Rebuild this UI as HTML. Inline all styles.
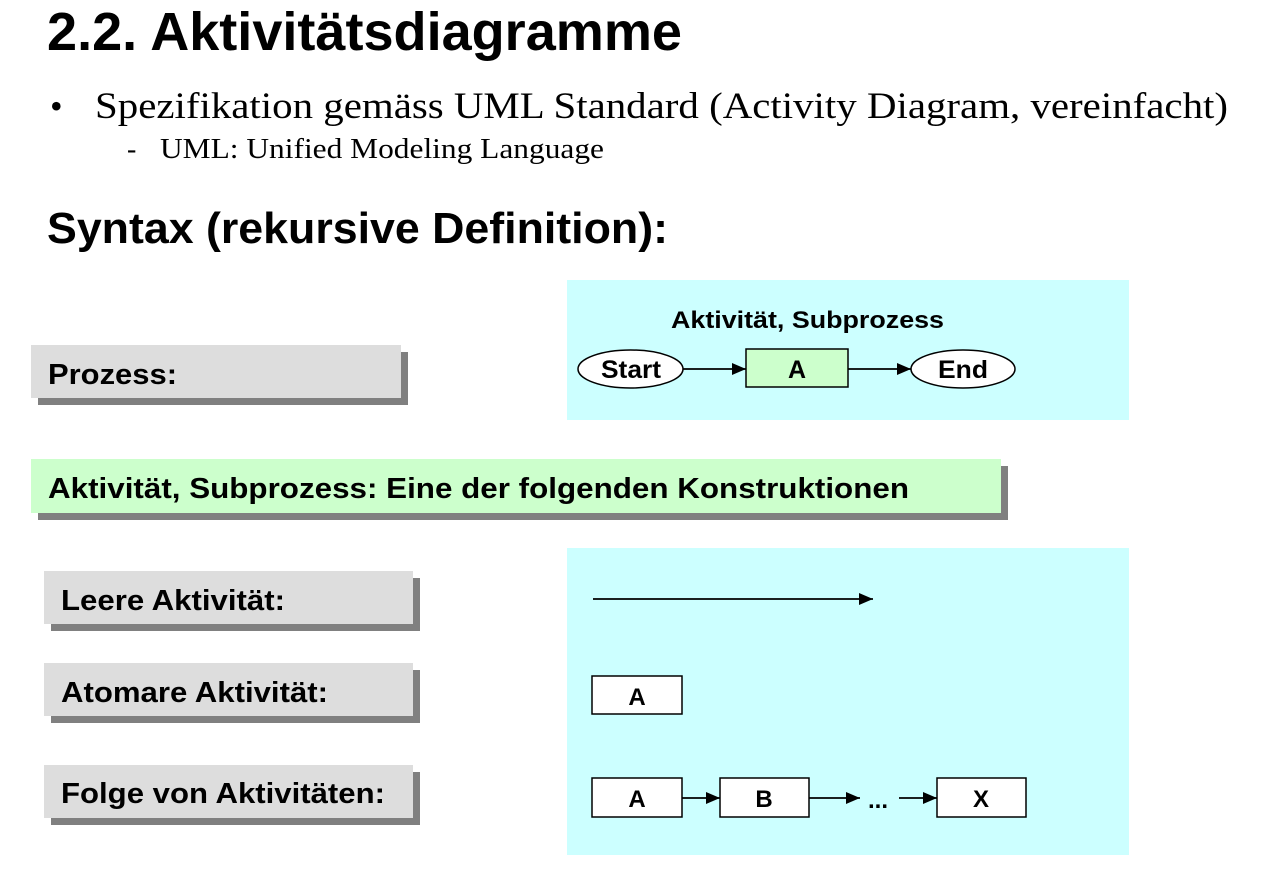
<!DOCTYPE html>
<html><head><meta charset="utf-8"><style>
html,body{margin:0;padding:0;background:#fff;}
svg{display:block;}
.h{font-family:"Liberation Sans",Arial,sans-serif;font-weight:bold;fill:#000;}
.t{font-family:"Liberation Serif","Times New Roman",serif;fill:#000;}
</style></head><body>
<svg width="1286" height="884" viewBox="0 0 1286 884" xmlns="http://www.w3.org/2000/svg">
<defs><marker id="ar" markerWidth="14" markerHeight="12" refX="14" refY="6" orient="auto" markerUnits="userSpaceOnUse"><path d="M0,0 L14,6 L0,12 z" fill="#000"/></marker></defs>
<text class="h" x="47" y="50" font-size="54" textLength="635" lengthAdjust="spacingAndGlyphs">2.2. Aktivitätsdiagramme</text>
<text class="t" x="50" y="118" font-size="36">•</text>
<text class="t" x="95" y="118" font-size="37" textLength="1133" lengthAdjust="spacingAndGlyphs">Spezifikation gemäss UML Standard  (Activity Diagram, vereinfacht)</text>
<text class="t" x="127" y="158" font-size="28">-</text>
<text class="t" x="160" y="158" font-size="28" textLength="444" lengthAdjust="spacingAndGlyphs">UML: Unified Modeling Language</text>
<text class="h" x="47" y="243" font-size="44" textLength="621" lengthAdjust="spacingAndGlyphs">Syntax (rekursive Definition):</text>

<rect x="38" y="352" width="370" height="53" fill="#808080"/>
<rect x="31" y="345" width="370" height="53" fill="#dddddd"/>
<text class="h" x="48" y="384" font-size="29" textLength="129" lengthAdjust="spacingAndGlyphs">Prozess:</text>

<rect x="38" y="466" width="970" height="54" fill="#808080"/>
<rect x="31" y="459" width="970" height="54" fill="#ccffcc"/>
<text class="h" x="48" y="498" font-size="29" textLength="861" lengthAdjust="spacingAndGlyphs">Aktivität, Subprozess: Eine der folgenden Konstruktionen</text>

<rect x="51" y="578" width="369" height="53" fill="#808080"/>
<rect x="44" y="571" width="369" height="53" fill="#dddddd"/>
<text class="h" x="61" y="610" font-size="29" textLength="224" lengthAdjust="spacingAndGlyphs">Leere Aktivität:</text>

<rect x="51" y="670" width="369" height="53" fill="#808080"/>
<rect x="44" y="663" width="369" height="53" fill="#dddddd"/>
<text class="h" x="61" y="702" font-size="29" textLength="267" lengthAdjust="spacingAndGlyphs">Atomare Aktivität:</text>

<rect x="51" y="772" width="369" height="53" fill="#808080"/>
<rect x="44" y="765" width="369" height="53" fill="#dddddd"/>
<text class="h" x="61" y="803" font-size="29" textLength="324" lengthAdjust="spacingAndGlyphs">Folge von Aktivitäten:</text>

<rect x="567" y="280" width="562" height="140" fill="#ccffff"/>
<text class="h" x="671" y="328" font-size="24" textLength="273" lengthAdjust="spacingAndGlyphs">Aktivität, Subprozess</text>
<ellipse cx="630.5" cy="369" rx="52.5" ry="19" fill="#fff" stroke="#000" stroke-width="1.5"/>
<text class="h" x="601" y="378" font-size="25" textLength="60" lengthAdjust="spacingAndGlyphs">Start</text>
<rect x="746" y="349" width="102" height="38" fill="#ccffcc" stroke="#000" stroke-width="1.5"/>
<text class="h" x="797" y="378" font-size="25" text-anchor="middle">A</text>
<ellipse cx="963" cy="369" rx="52" ry="19" fill="#fff" stroke="#000" stroke-width="1.5"/>
<text class="h" x="938" y="378" font-size="25" textLength="50" lengthAdjust="spacingAndGlyphs">End</text>
<line x1="683" y1="369" x2="746" y2="369" stroke="#000" stroke-width="1.8" marker-end="url(#ar)"/>
<line x1="848" y1="369" x2="911" y2="369" stroke="#000" stroke-width="1.8" marker-end="url(#ar)"/>

<rect x="567" y="548" width="562" height="307" fill="#ccffff"/>
<line x1="593" y1="599" x2="873" y2="599" stroke="#000" stroke-width="1.8" marker-end="url(#ar)"/>
<rect x="592" y="676" width="90" height="38" fill="#fff" stroke="#000" stroke-width="1.5"/>
<text class="h" x="637" y="705" font-size="24" text-anchor="middle">A</text>

<rect x="592" y="778" width="90" height="39" fill="#fff" stroke="#000" stroke-width="1.5"/>
<text class="h" x="637" y="807" font-size="24" text-anchor="middle">A</text>
<rect x="720" y="778" width="89" height="39" fill="#fff" stroke="#000" stroke-width="1.5"/>
<text class="h" x="764" y="807" font-size="24" text-anchor="middle">B</text>
<rect x="937" y="778" width="89" height="39" fill="#fff" stroke="#000" stroke-width="1.5"/>
<text class="h" x="981" y="807" font-size="24" text-anchor="middle">X</text>
<text class="h" x="878" y="808" font-size="24" text-anchor="middle">...</text>
<line x1="682" y1="798" x2="720" y2="798" stroke="#000" stroke-width="1.8" marker-end="url(#ar)"/>
<line x1="809" y1="798" x2="860" y2="798" stroke="#000" stroke-width="1.8" marker-end="url(#ar)"/>
<line x1="899" y1="798" x2="937" y2="798" stroke="#000" stroke-width="1.8" marker-end="url(#ar)"/>
</svg>
</body></html>
